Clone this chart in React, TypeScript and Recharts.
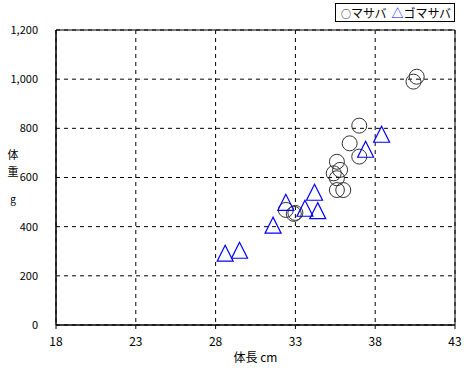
import {
  CartesianGrid,
  ReferenceArea,
  Scatter,
  ScatterChart,
  XAxis,
  YAxis,
} from "recharts";

// マサバ (circles): [体長 cm, 体重 g]
const masabaLength = [32.4, 32.9, 33.0, 35.4, 35.6, 35.8, 35.6, 35.6, 36.0, 36.4, 37.0, 37.0, 40.4, 40.6];
const masabaWeight = [468, 452, 456, 617, 664, 631, 597, 549, 549, 739, 685, 811, 990, 1010];

// ゴマサバ (triangles)
const gomaLength = [28.6, 29.5, 31.6, 32.4, 33.6, 34.2, 34.4, 37.4, 38.4];
const gomaWeight = [292, 304, 406, 499, 475, 540, 465, 715, 776];

const xTicks = [18, 23, 28, 33, 38, 43];
const yTicks = [0, 200, 400, 600, 800, 1000, 1200];

const seriesNames = ["マサバ", "ゴマサバ"];

const masaba = masabaLength.map((x, i) => ({ x, y: masabaWeight[i] }));
const goma = gomaLength.map((x, i) => ({ x, y: gomaWeight[i] }));

const FONT = "'Noto Sans CJK JP', 'DejaVu Sans', sans-serif";

const Circle = (props: any) => (
  <circle cx={props.cx} cy={props.cy} r={7.5} fill="none" stroke="#333" strokeWidth={1} />
);

const Triangle = (props: any) => {
  const { cx, cy } = props;
  const h = 8;
  return (
    <polygon
      points={`${cx},${cy - h} ${cx - h},${cy + h} ${cx + h},${cy + h}`}
      fill="none"
      stroke="#0000ff"
      strokeWidth={1.2}
    />
  );
};

const YLabel = () => {
  const x = 13;
  return (
    <g fontFamily={FONT} fontSize={11} fill="#000">
      <text x={x} y={159} textAnchor="middle">体</text>
      <text x={x} y={176} textAnchor="middle">重</text>
      <text x={x} y={203} textAnchor="middle" fontSize={10}>g</text>
    </g>
  );
};

export default function App() {
  return (
    <div style={{ position: "absolute", left: 0, top: 0, width: 468, height: 368, background: "#fff" }}>
      <ScatterChart
        width={468}
        height={368}
        margin={{ top: 30, right: 13, bottom: 0, left: 0 }}
        style={{ fontFamily: FONT }}
      >
        <CartesianGrid stroke="#000" strokeDasharray="4 4" strokeWidth={1} />
        <XAxis
          type="number"
          dataKey="x"
          domain={[18, 43]}
          ticks={xTicks}
          height={43}
          stroke="#000"
          tickLine={{ stroke: "#000" }}
          tickSize={4}
          tick={{ fill: "#000", fontSize: 12, fontFamily: FONT, dy: 6 }}
          label={{
            value: "体長 cm",
            position: "insideBottom",
            offset: 6,
            fill: "#000",
            fontSize: 12,
            fontFamily: FONT,
          }}
        />
        <YAxis
          type="number"
          dataKey="y"
          domain={[0, 1200]}
          ticks={yTicks}
          width={56}
          stroke="#000"
          tickLine={false}
          tickMargin={12}
          tick={{ fill: "#000", fontSize: 11, fontFamily: FONT }}
          tickFormatter={(v: number) => v.toLocaleString("en-US")}
          label={<YLabel />}
        />
        <ReferenceArea x1={18} x2={43} y1={0} y2={1200} fill="none" stroke="#000" strokeOpacity={1} ifOverflow="visible" />
        <Scatter name={seriesNames[0]} data={masaba} shape={Circle} isAnimationActive={false} />
        <Scatter name={seriesNames[1]} data={goma} shape={Triangle} isAnimationActive={false} />
      </ScatterChart>
      <div
        style={{
          position: "absolute",
          left: 335,
          top: 3,
          border: "1px solid #000",
          background: "#fff",
          width: 120,
          height: 19,
          fontFamily: FONT,
          fontSize: 12,
          lineHeight: "17px",
          color: "#000",
          whiteSpace: "nowrap",
          boxSizing: "border-box",
          paddingLeft: 5,
        }}
      >
        <span style={{ fontSize: 10 }}>○</span>
        {seriesNames[0]}
        <span style={{ color: "#0000ff", marginLeft: 5 }}>△</span>
        {seriesNames[1]}
      </div>
    </div>
  );
}
